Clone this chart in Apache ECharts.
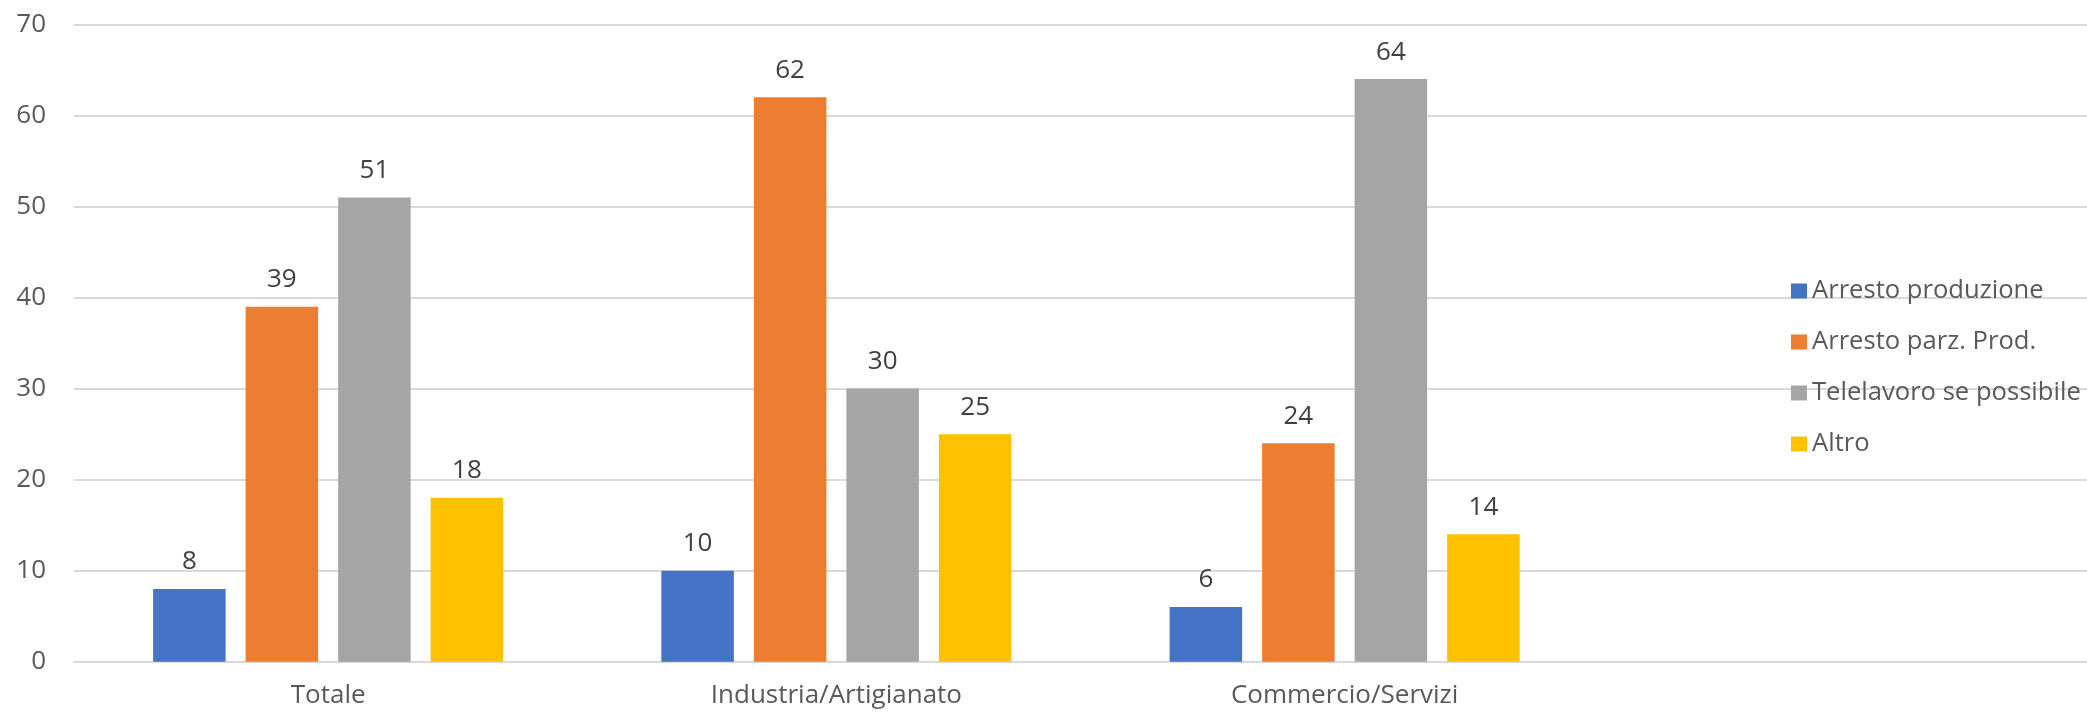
<!DOCTYPE html>
<html>
<head>
<meta charset="utf-8">
<script src="https://cdn.jsdelivr.net/npm/echarts@6/dist/echarts.min.js"></script>
<style>
html,body{margin:0;padding:0;background:#fff;overflow:hidden;width:2087px;height:714px;}
#chart{width:2107px;height:714px;}
</style>
</head>
<body>
<div id="chart"></div>
<script>
const categories = ['Totale', 'Industria/Artigianato', 'Commercio/Servizi'];
const seriesNames = ['Arresto produzione', 'Arresto parz. Prod.', 'Telelavoro se possibile', 'Altro'];
const arrestoProduzione = [8, 10, 6];
const arrestoParzProd = [39, 62, 24];
const telelavoro = [51, 30, 64];
const altro = [18, 25, 14];
const yTicks = [0, 10, 20, 30, 40, 50, 60, 70];

const colors = ['#4472C4', '#ED7D31', '#A5A5A5', '#FFC000'];
const seriesData = [arrestoProduzione, arrestoParzProd, telelavoro, altro];
const FONT = '"Open Sans", "Noto Sans", sans-serif';

const chart = echarts.init(document.getElementById('chart'), null, {renderer: 'canvas'});
chart.setOption({
  animation: false,
  backgroundColor: '#ffffff',
  textStyle: {fontFamily: FONT},
  grid: {left: 74, top: 24.5, right: 0, height: 637.2, containLabel: false},
  legend: {
    orient: 'vertical',
    left: 1786,
    top: 273,
    icon: 'rect',
    itemWidth: 16,
    itemHeight: 15,
    itemGap: 25,
    textStyle: {fontFamily: FONT, fontSize: 25.6, color: '#595959'},
    data: seriesNames
  },
  xAxis: {
    type: 'category',
    data: categories,
    max: 3,
    axisLine: {show: true, lineStyle: {color: '#D9D9D9', width: 2}},
    axisTick: {show: false},
    axisLabel: {fontFamily: FONT, fontSize: 26, color: '#595959', margin: 21, interval: 0},
    splitLine: {show: false}
  },
  yAxis: {
    type: 'value',
    min: yTicks[0],
    max: yTicks[yTicks.length - 1],
    interval: yTicks[1] - yTicks[0],
    axisLine: {show: false},
    axisTick: {show: false},
    axisLabel: {fontFamily: FONT, fontSize: 26, color: '#595959', margin: 28},
    splitLine: {show: true, lineStyle: {color: '#D9D9D9', width: 2}}
  },
  series: seriesNames.map((name, i) => ({
    name: name,
    type: 'bar',
    data: seriesData[i],
    barWidth: 72.5,
    barGap: '27.6%',
    itemStyle: {color: colors[i]},
    label: {
      show: true,
      position: 'top',
      distance: 14,
      fontFamily: FONT,
      fontSize: 26,
      color: '#404040'
    }
  }))
});
</script>
</body>
</html>
